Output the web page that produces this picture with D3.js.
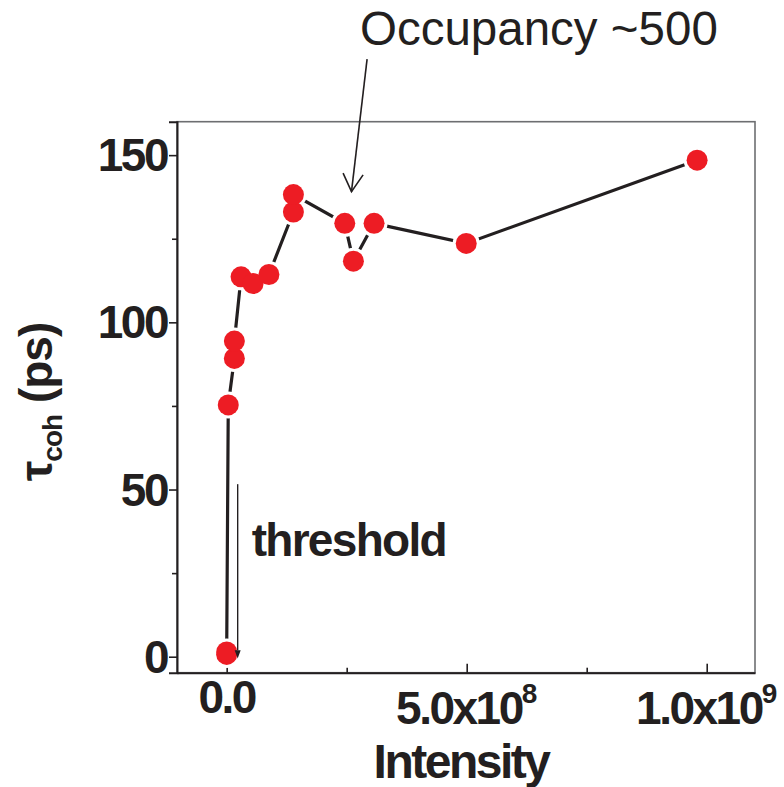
<!DOCTYPE html>
<html>
<head>
<meta charset="utf-8">
<script src="https://cdn.jsdelivr.net/npm/d3@7"></script>
<style>
  html, body { margin: 0; padding: 0; background: #fff; }
  svg { display: block; }
</style>
</head>
<body>
<script>
// ---- data ----
const intensity = [0, 0, 3.3e6, 1.6e7, 1.6e7, 3.0e7, 5.5e7, 8.8e7, 1.39e8, 1.39e8, 2.46e8, 2.64e8, 3.07e8, 4.99e8, 9.80e8];
const tauCoh    = [0.7, 1.4, 75.3, 89.2, 94.4, 113.6, 111.6, 114.3, 133.0, 138.2, 129.6, 118.3, 129.6, 123.6, 148.5];
const yMajorTicks = [0, 50, 100, 150];
const yMinorTicks = [25, 75, 125];
const xMajorTicks = [0, 5e8, 1e9];
const xMinorTicks = [2.5e8, 7.5e8];
const xTickLabels = [{base: "0.0", sup: ""}, {base: "5.0x10", sup: "8"}, {base: "1.0x10", sup: "9"}];

const W = 784, H = 787;
const pL = 177, pR = 755, pT = 121.7, pB = 672.7;
const ink = "#231f20", red = "#ed1c24";
const FONT = "'Liberation Sans', Arial, sans-serif";

const svg = d3.select("body").append("svg").attr("width", W).attr("height", H)
  .style("font-family", FONT);

const x = d3.scaleLinear().domain([-1.035e8, 1.1006e9]).range([pL, pR]);
const y = d3.scaleLinear().domain([-4.78, 160]).range([pB, pT]);

// frame
svg.append("rect").attr("x", pL).attr("y", pT).attr("width", pR - pL).attr("height", pB - pT)
  .attr("fill", "none").attr("stroke", "#6d6e71").attr("stroke-width", 1.6);

// y axis
const yAxisMajor = d3.axisLeft(y).tickValues(yMajorTicks).tickSize(8).tickFormat("");
const yAxisMinor = d3.axisLeft(y).tickValues(yMinorTicks).tickSize(5).tickFormat("");
const gy = svg.append("g").attr("transform", `translate(${pL},0)`).call(yAxisMajor);
svg.append("g").attr("transform", `translate(${pL},0)`).call(yAxisMinor).select(".domain").remove();
gy.select(".domain").attr("stroke", ink).attr("stroke-width", 2);

svg.append("g").selectAll("text").data(yMajorTicks).join("text")
  .attr("x", pL - 10).attr("y", d => y(d)).attr("dy", "0.35em")
  .attr("text-anchor", "end").attr("font-size", 46).attr("font-weight", "bold")
  .attr("letter-spacing", "-2.5px").attr("fill", ink)
  .text(d => d);

// x axis (inward ticks)
const gx = svg.append("g").attr("transform", `translate(0,${pB})`)
  .call(d3.axisBottom(x).tickValues(xMajorTicks).tickSizeInner(-9).tickSizeOuter(0).tickFormat(""));
const gx2 = svg.append("g").attr("transform", `translate(0,${pB})`)
  .call(d3.axisBottom(x).tickValues(xMinorTicks).tickSizeInner(-5).tickSizeOuter(0).tickFormat(""));
gx2.select(".domain").remove();
svg.selectAll("g .tick line").attr("stroke", ink).attr("stroke-width", 1.6);
gx.select(".domain").attr("stroke", ink).attr("stroke-width", 2);

const xl = svg.append("g").selectAll("text").data(xMajorTicks).join("text")
  .attr("x", d => x(d)).attr("y", (d, i) => xTickLabels[i].sup ? 724 : 713)
  .attr("text-anchor", "middle").attr("font-size", 46).attr("font-weight", "bold")
  .attr("letter-spacing", "-2.5px").attr("fill", ink);
xl.append("tspan").text((d, i) => xTickLabels[i].base);
xl.append("tspan").attr("dy", -21).attr("font-size", 28).attr("letter-spacing", "0px")
  .text((d, i) => xTickLabels[i].sup);

// axis titles
svg.append("text").attr("x", 461).attr("y", 778).attr("text-anchor", "middle")
  .attr("font-size", 48).attr("font-weight", "bold").attr("letter-spacing", "-2.5px").attr("fill", ink)
  .text("Intensity");

const yt = svg.append("text").attr("transform", "translate(52,402) rotate(-90)")
  .attr("text-anchor", "middle").attr("font-size", 46).attr("font-weight", "bold")
  .attr("letter-spacing", "-1px").attr("fill", ink);
yt.append("tspan").text("τ");
yt.append("tspan").attr("dy", 10).attr("font-size", 28).text("coh");
yt.append("tspan").attr("dy", -10).text(" (ps)");

// line
const pts = intensity.map((v, i) => [v, tauCoh[i]]);
svg.append("path").datum(pts)
  .attr("fill", "none").attr("stroke", ink).attr("stroke-width", 3.2)
  .attr("d", d3.line().x(d => x(d[0])).y(d => y(d[1])));

// halos then markers
svg.append("g").selectAll("circle").data(pts).join("circle")
  .attr("cx", d => x(d[0])).attr("cy", d => y(d[1])).attr("r", 13.5).attr("fill", "#fff");
svg.append("g").selectAll("circle").data(pts).join("circle")
  .attr("cx", d => x(d[0])).attr("cy", d => y(d[1])).attr("r", 10.5).attr("fill", red);

// threshold annotation
const thrX = x(2.29e7);
svg.append("line").attr("x1", thrX).attr("x2", thrX).attr("y1", y(51.6)).attr("y2", y(1.9))
  .attr("stroke", ink).attr("stroke-width", 1.4);
svg.append("path")
  .attr("d", `M${thrX - 3},${y(1.9)} L${thrX + 3},${y(1.9)} L${thrX},${y(-0.5)} Z`)
  .attr("fill", ink);
svg.append("text").attr("x", x(5.2e7)).attr("y", y(30.1))
  .attr("font-size", 46).attr("font-weight", "bold").attr("letter-spacing", "-1.7px").attr("fill", ink)
  .text("threshold");

// occupancy annotation
const tipX = x(2.60e8), tipY = y(139.1);
svg.append("line").attr("x1", x(2.925e8)).attr("y1", y(178.7)).attr("x2", tipX).attr("y2", tipY)
  .attr("stroke", ink).attr("stroke-width", 1.6);
svg.append("path")
  .attr("d", `M${tipX - 8.4},${tipY - 18.4} L${tipX},${tipY} L${tipX + 11.6},${tipY - 16.7}`)
  .attr("fill", "none").attr("stroke", ink).attr("stroke-width", 1.6);
svg.append("text").attr("x", 360).attr("y", 45)
  .attr("font-size", 47.5).attr("fill", ink)
  .text("Occupancy ~500");
</script>
</body>
</html>
